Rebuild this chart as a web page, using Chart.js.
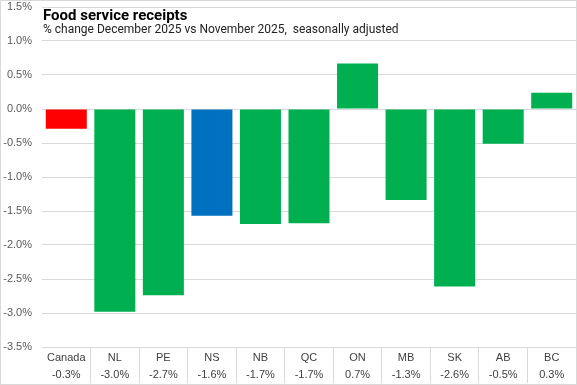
<!DOCTYPE html>
<html>
<head>
<meta charset="utf-8">
<script src="https://cdn.jsdelivr.net/npm/chart.js@4"></script>
<style>
  html, body { margin: 0; padding: 0; background: #fff; }
  #wrap { width: 577px; height: 385px; box-sizing: border-box; border: 1px solid #d9d9d9; }
  canvas { display: block; }
</style>
</head>
<body>
<div id="wrap"><canvas id="chart" width="575" height="383"></canvas></div>
<script>
  // Data
  const regions = ["Canada", "NL", "PE", "NS", "NB", "QC", "ON", "MB", "SK", "AB", "BC"];
  const changes = [-0.29, -2.98, -2.74, -1.57, -1.69, -1.68, 0.67, -1.34, -2.61, -0.51, 0.24];
  const changeLabels = ["-0.3%", "-3.0%", "-2.7%", "-1.6%", "-1.7%", "-1.7%", "0.7%", "-1.3%", "-2.6%", "-0.5%", "0.3%"];

  const titleText = "Food service receipts";
  const subtitleText = "% change December 2025 vs November 2025,  seasonally adjusted";

  function barColor(name) {
    if (name === "Canada") return "#ff0000";
    if (name === "NS") return "#0070c0";
    return "#00b050";
  }

  // Title sits inside the plot area, drawn on top
  const titlePlugin = {
    id: "titleOverlay",
    afterDraw(chart) {
      const c = chart.ctx;
      c.save();
      c.fillStyle = "#000";
      c.textBaseline = "alphabetic";
      c.textAlign = "left";
      c.font = "bold 15px Roboto, sans-serif";
      c.fillText(titleText, 42, 19);
      c.font = "12px Roboto, sans-serif";
      c.fillStyle = "#222";
      c.fillText(subtitleText, 42, 32);
      c.restore();
    }
  };

  const ctx = document.getElementById("chart").getContext("2d");
  new Chart(ctx, {
    type: "bar",
    data: {
      labels: regions.map((r, i) => [r, changeLabels[i]]),
      datasets: [{
        data: changes,
        backgroundColor: regions.map(barColor),
        borderWidth: 0,
        barPercentage: 0.845,
        categoryPercentage: 1
      }]
    },
    options: {
      responsive: false,
      animation: false,
      layout: { padding: { top: 6, right: 0, bottom: 1, left: 0 } },
      plugins: {
        legend: { display: false },
        tooltip: { enabled: false }
      },
      scales: {
        y: {
          min: -3.5,
          max: 1.5,
          afterFit(scale) {
            scale.width = 41;
            scale.paddingTop = 0;
            scale.paddingBottom = 0;
          },
          ticks: {
            stepSize: 0.5,
            padding: 10,
            color: "#595959",
            font: { family: "'Liberation Sans', Arial, sans-serif", size: 11 },
            callback: (v) => v.toFixed(1) + "%"
          },
          grid: { color: "#d9d9d9", drawTicks: false },
          border: { display: false }
        },
        x: {
          offset: true,
          afterFit(scale) {
            scale.height = 36;
            scale.paddingLeft = 0;
            scale.paddingRight = 0;
          },
          ticks: {
            padding: -34,
            color: "#404040",
            maxRotation: 0,
            autoSkip: false,
            font: { family: "'Liberation Sans', Arial, sans-serif", size: 11, lineHeight: 1.6 }
          },
          grid: {
            offset: true,
            drawOnChartArea: false,
            drawTicks: true,
            tickLength: 36,
            color: (c) => (c.index === 0 ? "rgba(0,0,0,0)" : "#d9d9d9")
          },
          border: { display: true, color: "#d9d9d9" }
        }
      }
    },
    plugins: [titlePlugin]
  });
</script>
</body>
</html>
